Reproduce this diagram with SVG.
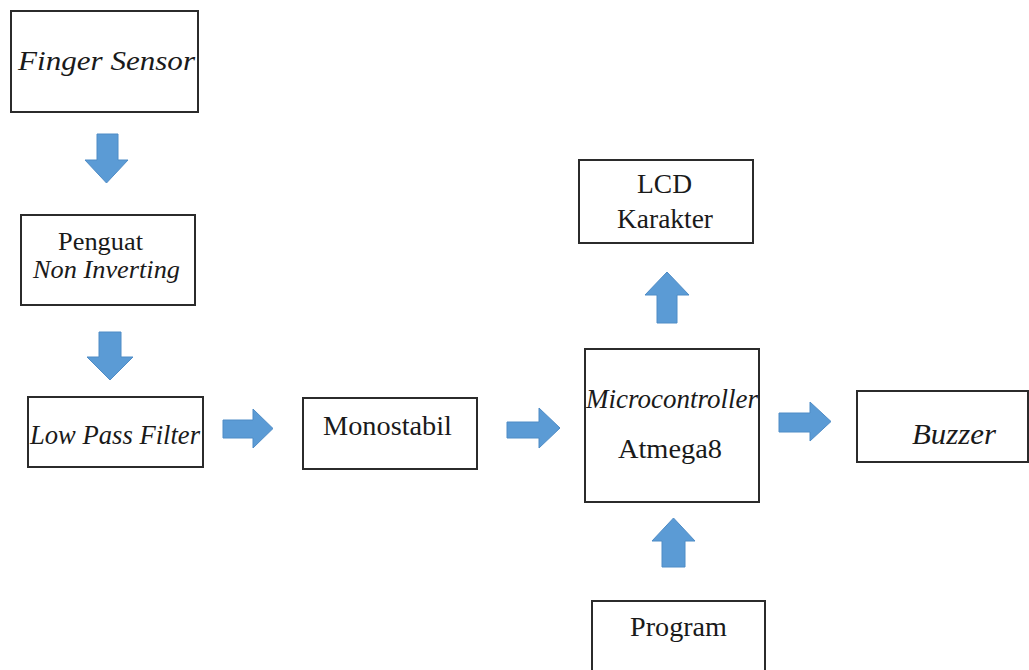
<svg xmlns="http://www.w3.org/2000/svg" width="1029" height="670" viewBox="0 0 1029 670">
<style>
.box{fill:#fff;stroke:#2b2b2b;stroke-width:2}
.t{font-family:'Liberation Serif','Times New Roman',Tinos,'DejaVu Serif',serif;font-size:27px;fill:#1a1a1a}
.i{font-style:italic}
.s26{font-size:26px}
.s29{font-size:29px}
.arr{fill:#5b9bd5;stroke:#4f8cc6;stroke-width:1}
</style>
<rect width="1029" height="670" fill="#fff"/>
<g id="connectors">
<path class="arr" d="M97,134 H118 V160 H128 L106.5,183 L85,160 H97 Z"/>
<path class="arr" d="M99,332 H121 V357 H133 L110,380 L87,357 H99 Z"/>
<path class="arr" d="M223,420 H253 V409 L273,428.5 L253,448 V438 H223 Z"/>
<path class="arr" d="M507,422 H539 V408 L560,428 L539,448 V438 H507 Z"/>
<path class="arr" d="M779,413 H810 V402 L831,421.5 L810,441 V432 H779 Z"/>
<path class="arr" d="M657,323 V295 H645 L667,272 L689,295 H677 V323 Z"/>
<path class="arr" d="M662,567 V541 H652 L673.5,518 L695,541 H685 V567 Z"/>
</g>
<g id="finger-sensor">
<rect class="box" x="11" y="11" width="187" height="101"/>
<text class="t i" x="18" y="70" textLength="177" lengthAdjust="spacingAndGlyphs">Finger Sensor</text>
</g>
<g id="penguat">
<rect class="box" x="21" y="215" width="174" height="90"/>
<text class="t s26" x="58" y="250" textLength="85" lengthAdjust="spacingAndGlyphs">Penguat</text>
<text class="t i s26" x="33" y="278" textLength="147" lengthAdjust="spacingAndGlyphs">Non Inverting</text>
</g>
<g id="low-pass-filter">
<rect class="box" x="28" y="397" width="175" height="70"/>
<text class="t i" x="30" y="444" textLength="170" lengthAdjust="spacingAndGlyphs">Low Pass Filter</text>
</g>
<g id="monostabil">
<rect class="box" x="303" y="398" width="174" height="71"/>
<text class="t" x="323" y="435" textLength="129" lengthAdjust="spacingAndGlyphs">Monostabil</text>
</g>
<g id="microcontroller">
<rect class="box" x="585" y="349" width="174" height="153"/>
<text class="t i" x="586" y="408" textLength="172" lengthAdjust="spacingAndGlyphs">Microcontroller</text>
<text class="t" x="618" y="458" textLength="104" lengthAdjust="spacingAndGlyphs">Atmega8</text>
</g>
<g id="lcd">
<rect class="box" x="579" y="160" width="174" height="83"/>
<text class="t" x="637" y="193" textLength="55" lengthAdjust="spacingAndGlyphs">LCD</text>
<text class="t" x="617" y="228" textLength="96" lengthAdjust="spacingAndGlyphs">Karakter</text>
</g>
<g id="buzzer">
<rect class="box" x="857" y="391" width="171" height="71"/>
<text class="t i s29" x="912" y="444" textLength="84" lengthAdjust="spacingAndGlyphs">Buzzer</text>
</g>
<g id="program">
<rect class="box" x="592" y="601" width="173" height="80"/>
<text class="t" x="630" y="636" textLength="97" lengthAdjust="spacingAndGlyphs">Program</text>
</g>
</svg>
